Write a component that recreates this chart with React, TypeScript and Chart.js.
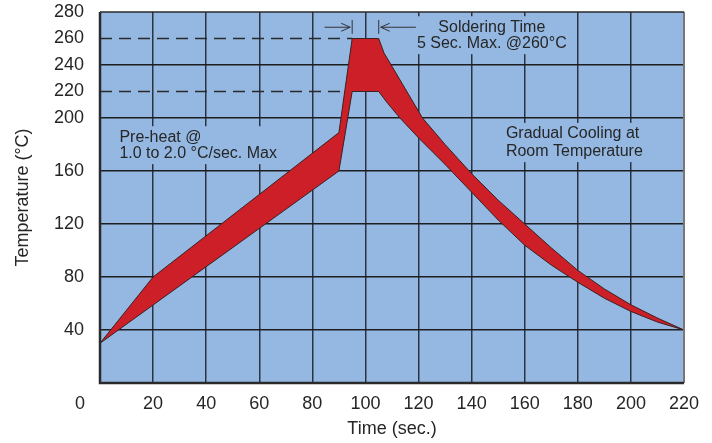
import React, { useEffect, useRef } from 'react';
import { Chart, registerables } from 'chart.js';
Chart.register(...registerables);

// ---- data ----
const UPPER_X = [0, 20, 90, 95, 105, 107, 110, 115, 121.5, 130, 140, 150, 160, 170, 180, 190, 200, 210, 220];
const UPPER_Y = [30, 80, 189, 260, 260, 249, 239, 222, 200, 180, 158, 138, 120, 102, 85, 71, 59, 49, 40];
const LOWER_X = [0, 90, 95, 105, 108, 113, 120, 130, 140, 150, 160, 170, 180, 190, 200, 210, 220];
const LOWER_Y = [30, 160, 220, 220, 212, 200, 185, 165, 144, 123, 104, 89, 76, 64, 54, 46, 40];

const X_TICKS = [0, 20, 40, 60, 80, 100, 120, 140, 160, 180, 200, 220];
const Y_TICKS = [0, 40, 80, 120, 160, 200, 220, 240, 260, 280];
const Y_DASHED = [220, 260];
const DASH_END = [92.5, 95];
const SOLDER_WINDOW = [95, 105];

const X_TITLE = 'Time (sec.)';
const Y_TITLE = 'Temperature (°C)';
const NOTE_PREHEAT = ['Pre-heat @', '1.0 to 2.0 °C/sec. Max'];
const NOTE_SOLDER = ['Soldering Time', '5 Sec. Max. @260°C'];
const NOTE_COOL = ['Gradual Cooling at', 'Room Temperature'];

const FONT = "'Liberation Sans', Arial, Helvetica, sans-serif";
const BG = '#94b8e2';
const RED = '#cc1f27';
const TXT = '#262626';

const decor = {
  id: 'decor',
  beforeDraw(chart: any) {
    const { ctx, chartArea: a } = chart;
    ctx.save();
    ctx.fillStyle = BG;
    ctx.fillRect(a.left, a.top, a.right - a.left, a.bottom - a.top);
    ctx.restore();
  },
  beforeDatasetsDraw(chart: any) {
    const { ctx } = chart;
    const xs = chart.scales.x, ys = chart.scales.y;
    ctx.save();
    // dashed reference lines
    ctx.strokeStyle = '#2a2a2a';
    ctx.lineWidth = 1.5;
    ctx.setLineDash([12, 7]);
    Y_DASHED.forEach((v, i) => {
      const py = ys.getPixelForValue(v);
      ctx.beginPath();
      ctx.moveTo(xs.getPixelForValue(0), py);
      ctx.lineTo(xs.getPixelForValue(DASH_END[i]), py);
      ctx.stroke();
    });
    ctx.setLineDash([]);

    // notes with background boxes that break grid lines
    ctx.font = `16px ${FONT}`;
    ctx.textBaseline = 'middle';
    const drawNote = (lines: string[], px: number, py1: number, py2: number, align: 'left' | 'center') => {
      const w = Math.max(...lines.map((l) => ctx.measureText(l).width));
      const left = align === 'left' ? px : px - w / 2;
      ctx.fillStyle = BG;
      ctx.fillRect(left - 6, py1 - 11, w + 12, py2 - py1 + 22);
      ctx.fillStyle = TXT;
      ctx.textAlign = align;
      ctx.fillText(lines[0], px, py1);
      ctx.fillText(lines[1], px, py2);
    };
    drawNote(NOTE_PREHEAT, xs.getPixelForValue(7.3), ys.getPixelForValue(185.5), ys.getPixelForValue(173.5), 'left');
    drawNote(NOTE_SOLDER, xs.getPixelForValue(147.6), ys.getPixelForValue(268.5), ys.getPixelForValue(256.5), 'center');
    drawNote(NOTE_COOL, xs.getPixelForValue(152.9), ys.getPixelForValue(188), ys.getPixelForValue(175), 'left');
    ctx.restore();
  },
  afterDatasetsDraw(chart: any) {
    const { ctx, chartArea: a } = chart;
    const xs = chart.scales.x, ys = chart.scales.y;
    ctx.save();
    // frame
    ctx.strokeStyle = '#777';
    ctx.lineWidth = 2;
    ctx.beginPath(); ctx.moveTo(a.right, a.top); ctx.lineTo(a.right, a.bottom); ctx.stroke();
    ctx.strokeStyle = '#2a2a2a';
    ctx.lineWidth = 1.5;
    ctx.beginPath(); ctx.moveTo(a.left, a.top); ctx.lineTo(a.right, a.top); ctx.stroke();
    ctx.lineWidth = 2.5;
    ctx.beginPath(); ctx.moveTo(a.left, a.top); ctx.lineTo(a.left, a.bottom); ctx.lineTo(a.right, a.bottom); ctx.stroke();

    // soldering-time arrows
    const yA = ys.getPixelForValue(268.5);
    const yT1 = ys.getPixelForValue(274), yT2 = ys.getPixelForValue(263.5);
    const xL = xs.getPixelForValue(SOLDER_WINDOW[0]);
    const xR = xs.getPixelForValue(SOLDER_WINDOW[1]);
    ctx.strokeStyle = '#333';
    ctx.lineWidth = 1;
    ctx.beginPath();
    ctx.moveTo(xL, yT1); ctx.lineTo(xL, yT2);
    ctx.moveTo(xR, yT1); ctx.lineTo(xR, yT2);
    // left arrow -> pointing right
    ctx.moveTo(xs.getPixelForValue(84.6), yA); ctx.lineTo(xL - 2, yA);
    ctx.moveTo(xL - 11, yA - 4); ctx.lineTo(xL - 2, yA); ctx.lineTo(xL - 11, yA + 4);
    // right arrow <- pointing left
    ctx.moveTo(xs.getPixelForValue(119), yA); ctx.lineTo(xR + 2, yA);
    ctx.moveTo(xR + 11, yA - 4); ctx.lineTo(xR + 2, yA); ctx.lineTo(xR + 11, yA + 4);
    ctx.stroke();

    // origin label
    ctx.fillStyle = TXT;
    ctx.font = `18px ${FONT}`;
    ctx.textAlign = 'center';
    ctx.textBaseline = 'middle';
    ctx.fillText('0', xs.getPixelForValue(0) - 20, a.bottom + 21.5);
    ctx.restore();
  },
};

export default function App() {
  const ref = useRef<HTMLCanvasElement | null>(null);
  useEffect(() => {
    document.body.style.margin = '0';
    const upper = UPPER_X.map((x, i) => ({ x, y: UPPER_Y[i] }));
    const lower = LOWER_X.map((x, i) => ({ x, y: LOWER_Y[i] }));
    const loop = [...upper, ...lower.slice().reverse()];
    const chart = new Chart(ref.current as HTMLCanvasElement, {
      type: 'line',
      data: {
        datasets: [
          {
            data: loop,
            fill: 'shape',
            backgroundColor: RED,
            borderColor: '#3a2222',
            borderWidth: 1,
            pointRadius: 0,
            tension: 0,
          } as any,
        ],
      },
      options: {
        animation: false,
        responsive: false,
        layout: { padding: { left: 0, right: 28, top: 12, bottom: 0 } },
        plugins: { legend: { display: false }, tooltip: { enabled: false } },
        scales: {
          x: {
            type: 'linear',
            min: 0,
            max: 220,
            afterBuildTicks: (s: any) => { s.ticks = X_TICKS.map((v) => ({ value: v })); },
            afterFit: (s: any) => { s.height = 60; s.paddingLeft = 0; s.paddingRight = 0; s.paddingTop = 0; s.paddingBottom = 0; },
            border: { display: false },
            grid: {
              drawTicks: false,
              lineWidth: 1.5,
              color: (c: any) => (c.tick && (c.tick.value === 0 || c.tick.value === 220) ? 'rgba(0,0,0,0)' : '#2b3240'),
            },
            ticks: {
              padding: 10,
              color: TXT,
              font: { family: FONT, size: 18 },
              maxRotation: 0,
              autoSkip: false,
              callback: (v: any) => (v === 0 ? '' : String(v)),
            },
            title: { display: true, text: X_TITLE, color: TXT, font: { family: FONT, size: 18 }, padding: { top: 0, bottom: 3 } },
          },
          y: {
            type: 'linear',
            min: 0,
            max: 280,
            afterBuildTicks: (s: any) => { s.ticks = Y_TICKS.map((v) => ({ value: v })); },
            afterFit: (s: any) => { s.width = 100; s.paddingLeft = 0; s.paddingRight = 0; s.paddingTop = 0; s.paddingBottom = 0; },
            border: { display: false },
            grid: {
              drawTicks: false,
              lineWidth: 1.5,
              color: (c: any) => {
                const v = c.tick ? c.tick.value : -1;
                return v === 0 || v === 280 || Y_DASHED.includes(v) ? 'rgba(0,0,0,0)' : '#1e1e1e';
              },
            },
            ticks: {
              padding: 16,
              color: TXT,
              font: { family: FONT, size: 18 },
              autoSkip: false,
              callback: (v: any) => (v === 0 ? '' : String(v)),
            },
            title: { display: true, text: Y_TITLE, color: TXT, font: { family: FONT, size: 18 }, padding: { top: 12, bottom: 0 } },
          },
        },
      },
      plugins: [decor],
    });
    return () => chart.destroy();
  }, []);
  return (
    <div style={{ width: 712, height: 443 }}>
      <canvas ref={ref} width={712} height={443} style={{ width: 712, height: 443, display: 'block' }} />
    </div>
  );
}
